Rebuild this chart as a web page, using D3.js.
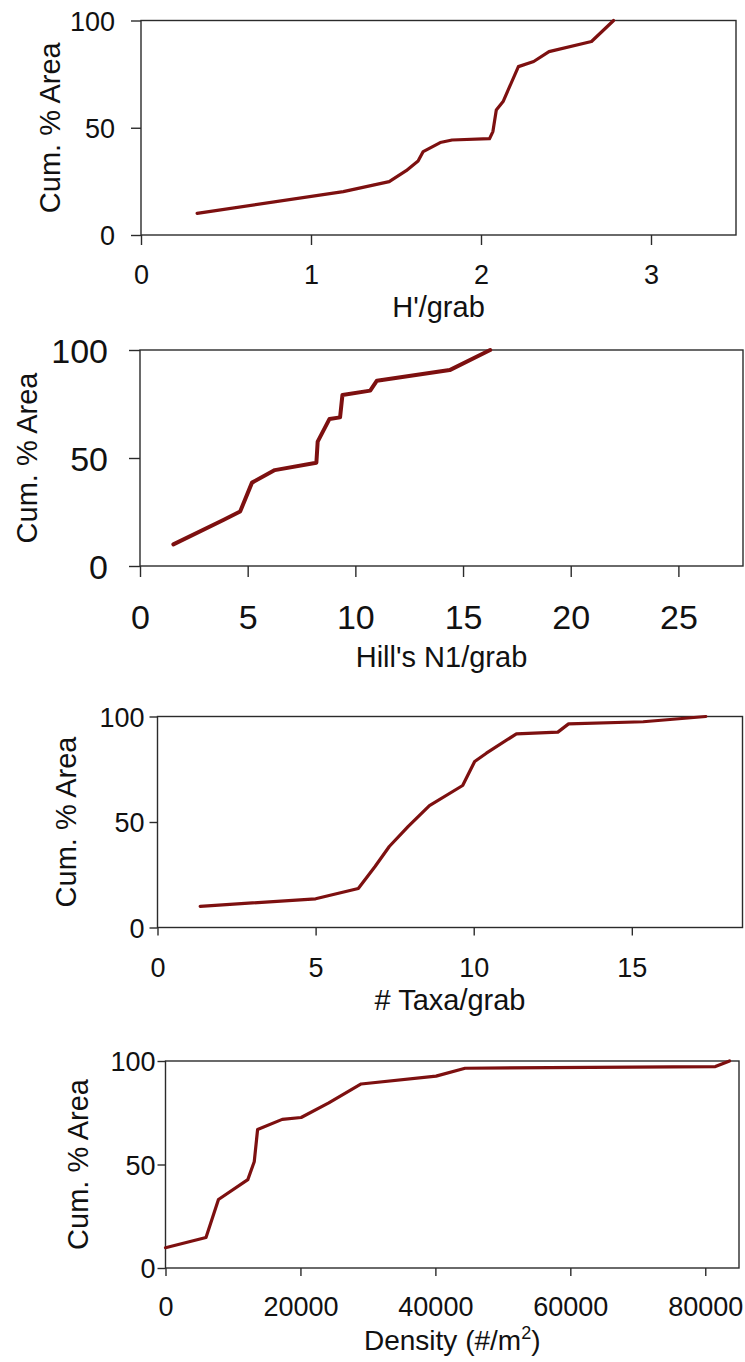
<!DOCTYPE html>
<html>
<head>
<meta charset="utf-8">
<script src="https://cdn.jsdelivr.net/npm/d3@7"></script>
<style>
  body { margin: 0; background: #fff; }
  svg { display: block; font-family: "Liberation Sans", Arial, sans-serif; }
</style>
</head>
<body>
<div class="chart"></div>
<script>
// Shannon H' per grab
const hX = [0.33, 1.19, 1.46, 1.56, 1.63, 1.66, 1.76, 1.83, 2.05, 2.07, 2.09, 2.13, 2.22, 2.31, 2.40, 2.65, 2.78];
const hY = [10.1, 20.2, 24.9, 30.0, 34.5, 38.9, 43.1, 44.3, 44.9, 48.2, 58.3, 62.2, 78.5, 80.9, 85.5, 90.2, 100];

// Hill's N1 per grab
const n1X = [1.55, 3.87, 4.65, 5.2, 6.26, 8.19, 8.25, 8.8, 9.29, 9.4, 10.69, 11.0, 14.38, 16.26];
const n1Y = [10.0, 21.3, 25.2, 38.6, 44.4, 47.8, 57.6, 68.1, 68.8, 79.2, 81.2, 85.8, 90.7, 100];

// # taxa per grab
const taxaX = [1.35, 5.0, 6.35, 6.88, 7.33, 7.93, 8.6, 9.65, 10.03, 10.4, 11.35, 12.66, 13.0, 15.36, 17.34];
const taxaY = [10.0, 13.6, 18.5, 28.9, 38.4, 47.9, 57.8, 67.3, 78.7, 82.6, 91.8, 92.6, 96.5, 97.5, 100];

// density (#/m2)
const densX = [0, 6000, 7850, 12200, 13150, 13650, 17300, 20100, 24200, 29000, 40100, 44400, 81500, 83600];
const densY = [9.8, 14.7, 33.1, 42.7, 51.3, 66.9, 71.8, 72.7, 79.8, 88.9, 92.7, 96.5, 97.3, 100];

const yTicks = [0, 50, 100];
const hTicks = [0, 1, 2, 3];
const n1Ticks = [0, 5, 10, 15, 20, 25];
const taxaTicks = [0, 5, 10, 15];
const densTicks = [0, 20000, 40000, 60000, 80000];

const lineColor = "#7d1010";
const axisColor = "#2b2b2b";

const svg = d3.select(".chart")
   .append("svg")
   .attr("width", 745)
   .attr("height", 1362);

const panels = [
   { xs: hX, ys: hY, ticks: hTicks, xMax: 3.5, label: "H'/grab",
     left: 141, right: 736, top: 20.5, bottom: 235,
     fs: 27, tick: 10, yPad: 26, xLabelY: 284, titleX: 60, titleY: 317, lw: 3.2 },
   { xs: n1X, ys: n1Y, ticks: n1Ticks, xMax: 28, label: "Hill's N1/grab",
     left: 140, right: 743, top: 350, bottom: 566,
     fs: 34, tick: 11, yPad: 32, xLabelY: 629, titleX: 37, titleY: 667, lw: 4 },
   { xs: taxaX, ys: taxaY, ticks: taxaTicks, xMax: 18.5, label: "# Taxa/grab",
     left: 157.5, right: 742.5, top: 716.5, bottom: 927.5,
     fs: 27, tick: 8, yPad: 13, xLabelY: 977, titleX: 76, titleY: 1010, lw: 3.2 },
   { xs: densX, ys: densY, ticks: densTicks, xMax: 85000, label: "Density (#/m",
     left: 165.5, right: 739, top: 1061, bottom: 1268,
     fs: 27, tick: 8, yPad: 10, xLabelY: 1316, titleX: 88, titleY: 1350, lw: 3.2, sup: true }
];

panels.forEach((p) => {
   const x = d3.scaleLinear().domain([0, p.xMax]).range([p.left, p.right]);
   const y = d3.scaleLinear().domain([0, 100]).range([p.bottom, p.top]);
   const g = svg.append("g");

   // frame
   g.append("rect")
      .attr("x", p.left)
      .attr("y", p.top)
      .attr("width", p.right - p.left)
      .attr("height", p.bottom - p.top)
      .attr("fill", "none")
      .attr("stroke", axisColor)
      .attr("stroke-width", 1.4);

   const xAxis = g.append("g")
      .attr("transform", `translate(0, ${p.bottom})`)
      .call(d3.axisBottom(x).tickValues(p.ticks).tickSize(p.tick).tickSizeOuter(0).tickFormat(d3.format("d")));
   xAxis.selectAll("text")
      .attr("y", p.xLabelY - p.bottom)
      .attr("dy", null);

   const yAxis = g.append("g")
      .attr("transform", `translate(${p.left}, 0)`)
      .call(d3.axisLeft(y).tickValues(yTicks).tickSize(p.tick).tickSizeOuter(0));
   yAxis.selectAll("text")
      .attr("x", -p.yPad)
      .attr("dy", "0.36em");

   [xAxis, yAxis].forEach((a) => {
      a.select(".domain").remove();
      a.selectAll("line").attr("stroke", axisColor).attr("stroke-width", 1.4);
      a.selectAll("text")
         .attr("fill", "#111")
         .style("font-size", p.fs + "px")
         .style("font-family", '"Liberation Sans", Arial, sans-serif');
   });

   const pts = p.xs.map((v, i) => [v, p.ys[i]]);
   g.append("path")
      .datum(pts)
      .attr("fill", "none")
      .attr("stroke", lineColor)
      .attr("stroke-width", p.lw)
      .attr("stroke-linejoin", "round")
      .attr("stroke-linecap", "round")
      .attr("d", d3.line().x((d) => x(d[0])).y((d) => y(d[1])));

   g.append("text")
      .attr("transform", `translate(${p.titleX}, ${(p.top + p.bottom) / 2}) rotate(-90)`)
      .attr("text-anchor", "middle")
      .attr("fill", "#111")
      .style("font-size", "29px")
      .text("Cum. % Area");

   const xl = g.append("text")
      .attr("x", (p.left + p.right) / 2)
      .attr("y", p.titleY)
      .attr("text-anchor", "middle")
      .attr("fill", "#111")
      .style("font-size", (p.sup ? 28 : 29) + "px")
      .text(p.label);
   if (p.sup) {
      xl.append("tspan").attr("dy", -11).style("font-size", "18px").text("2");
      xl.append("tspan").attr("dy", 11).text(")");
   }
});
</script>
</body>
</html>
